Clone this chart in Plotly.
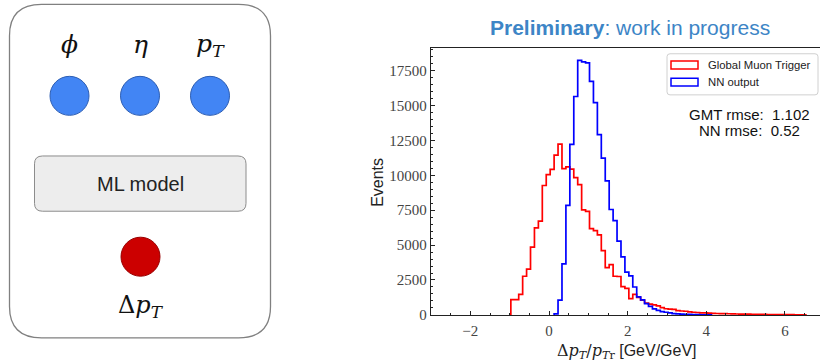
import plotly.graph_objects as go

# ---------------- data ----------------
bin_start = -0.97
bin_width = 0.1

gmt_counts = [1100, 1100, 1470, 2770, 3280, 4850, 6230, 6720, 9270, 10050,
              10420, 11450, 12230, 10480, 10600, 10450, 9830, 9340, 7530, 7420,
              6180, 6040, 5740, 4600, 3380, 3600, 2770, 2750, 2030, 1900,
              1160, 1470, 1250, 1050, 850, 770, 720, 650, 520, 440,
              420, 400, 300, 280, 260, 210, 190, 170, 150, 140,
              130, 115, 100, 95, 90, 80, 70, 65, 60, 55,
              50, 45, 40, 35, 30, 28, 25, 22, 20, 18,
              15, 12, 10, 8, 6]

nn_counts = [0] * 11 + [70, 1060, 3660, 7850, 12220, 15650, 18240, 18130, 18060, 16730,
                        15210, 12920, 11240, 9600, 7550, 6750, 5280, 4150, 3060, 2800,
                        2000, 1290, 1070, 800, 610, 430, 330, 240, 190, 140,
                        95, 70, 50, 40, 30, 20, 15, 10, 8, 5]

series_names = ["Global Muon Trigger", "NN output"]
rmse_labels = ["GMT rmse:  1.102", "NN rmse:  0.52"]
input_labels = ["<i>ϕ</i>", "<i>η</i>", "<i>p</i><sub><i>T</i></sub>"]
output_label = "Δ<i>p</i><sub><i>T</i></sub>"
model_label = "ML model"
x_ticks = [-2, 0, 2, 4, 6]


def step_xy(counts):
    idx = [i for i, c in enumerate(counts) if c > 0]
    i0, i1 = idx[0], idx[-1]
    edges = [bin_start + bin_width * i for i in range(i0, i1 + 2)]
    xs = [edges[0]] + edges[:-1] + [edges[-1]]
    ys = [0] + list(counts[i0:i1 + 1]) + [0]
    return xs, ys


W, H = 820, 362
fig = go.Figure()

gx, gy = step_xy(gmt_counts)
nx, ny = step_xy(nn_counts)
fig.add_trace(go.Scatter(x=gx, y=gy, mode="lines", line=dict(color="#ff0000", width=1.7, shape="hv"),
                         name=series_names[0], xaxis="x", yaxis="y"))
fig.add_trace(go.Scatter(x=nx, y=ny, mode="lines", line=dict(color="#0000ff", width=1.7, shape="hv"),
                         name=series_names[1], xaxis="x", yaxis="y"))

# diagram nodes (pixel-unit overlay axes)
node_x = [69.5, 140, 210, 140.5]
node_y = [98, 98, 98, 262.5]
node_fill = ["#4285f4", "#4285f4", "#4285f4", "#cc0000"]
node_line = ["#2f5fb3", "#2f5fb3", "#2f5fb3", "#990000"]
fig.add_trace(go.Scatter(x=node_x, y=node_y, mode="markers", xaxis="x2", yaxis="y2",
                         marker=dict(size=39, color=node_fill, line=dict(color=node_line, width=1)),
                         hoverinfo="skip"))


def rrect(x0, y0, x1, y1, r):
    return (f"M {x0+r},{y0} L {x1-r},{y0} Q {x1},{y0} {x1},{y0+r} "
            f"L {x1},{y1-r} Q {x1},{y1} {x1-r},{y1} L {x0+r},{y1} "
            f"Q {x0},{y1} {x0},{y1-r} L {x0},{y0+r} Q {x0},{y0} {x0+r},{y0} Z")


shapes = [
    dict(type="path", path=rrect(9.5, 4.5, 270.5, 345.5, 32), xref="x2", yref="y2",
         line=dict(color="#808080", width=1.3), fillcolor="rgba(0,0,0,0)", layer="below"),
    dict(type="path", path=rrect(34.5, 159.5, 246, 216, 8), xref="x2", yref="y2",
         line=dict(color="#8c8c8c", width=1), fillcolor="#ededed", layer="below"),
    # legend
    dict(type="path", path=rrect(667, 55, 818, 97, 3), xref="x2", yref="y2",
         line=dict(color="#d0d0d0", width=1), fillcolor="rgba(255,255,255,0.8)"),
    dict(type="rect", x0=671, x1=698, y0=62.5, y1=70.5, xref="x2", yref="y2",
         line=dict(color="#ff0000", width=1.5), fillcolor="rgba(0,0,0,0)"),
    dict(type="rect", x0=671, x1=698, y0=80, y1=88, xref="x2", yref="y2",
         line=dict(color="#0000ff", width=1.5), fillcolor="rgba(0,0,0,0)"),
]

math_font = "DejaVu Serif"
ann = []
for lx, lbl in zip([69.5, 140, 210], input_labels):
    ann.append(dict(x=lx, y=46, text=lbl, xref="x2", yref="y2", showarrow=False,
                    font=dict(family=math_font, size=25, color="#111")))
ann.append(dict(x=140.5, y=313, text=output_label, xref="x2", yref="y2", showarrow=False,
                font=dict(family=math_font, size=24, color="#111")))
ann.append(dict(x=140, y=188, text=model_label, xref="x2", yref="y2", showarrow=False,
                font=dict(family="Liberation Sans", size=20, color="#222")))
# title
ann.append(dict(x=629.5, y=28, text="<b>Preliminary</b>: work in progress", xref="x2", yref="y2",
                showarrow=False, font=dict(family="Liberation Sans", size=21, color="#3d85c6")))
# legend labels
ann.append(dict(x=706, y=66.5, text=series_names[0], xref="x2", yref="y2", showarrow=False,
                xanchor="left", font=dict(family="Liberation Sans", size=11.3, color="#222")))
ann.append(dict(x=706, y=84, text=series_names[1], xref="x2", yref="y2", showarrow=False,
                xanchor="left", font=dict(family="Liberation Sans", size=11.3, color="#222")))
# rmse text
ann.append(dict(x=749, y=117.5, text=rmse_labels[0], xref="x2", yref="y2", showarrow=False,
                font=dict(family="Liberation Sans", size=15, color="#111")))
ann.append(dict(x=749, y=133, text=rmse_labels[1], xref="x2", yref="y2", showarrow=False,
                font=dict(family="Liberation Sans", size=15, color="#111")))
# axis titles
ann.append(dict(x=378, y=187, text="Events", xref="x2", yref="y2", showarrow=False, textangle=-90,
                font=dict(family="Liberation Sans", size=16, color="#222")))
ann.append(dict(x=627, y=0.006, yref="paper", xref="x2", yanchor="middle",
                text=f"<span style='font-family:{math_font}'>Δ<i>p</i><sub><i>T</i></sub>/<i>p</i><sub><i>T</i>r</sub></span> [GeV/GeV]",
                showarrow=False,
                font=dict(family="Liberation Sans", size=16, color="#222")))

tickfont = dict(family="Liberation Serif", size=15, color="#444")
fig.update_layout(
    width=W, height=H, margin=dict(l=0, r=0, t=0, b=0),
    paper_bgcolor="white", plot_bgcolor="rgba(0,0,0,0)", showlegend=False,
    xaxis=dict(domain=[431 / W, 1.0], range=[-3.0, 6.89], anchor="y",
               showline=True, linecolor="#222", linewidth=1.3, mirror=True,
               ticks="inside", ticklen=4, tickwidth=1, tickcolor="#222", ticklabelstandoff=2,
               tickvals=x_ticks, showgrid=False, zeroline=False, tickfont=tickfont,
               minor=dict(dtick=0.5, tick0=0, ticks="inside", ticklen=2, tickcolor="#222")),
    yaxis=dict(domain=[(H - 322) / H, (H - 49) / H], range=[0, 19130], anchor="x",
               showline=True, linecolor="#222", linewidth=1.3,
               ticks="inside", ticklen=4, tickwidth=1, tickcolor="#222",
               dtick=2500, tick0=0, tickformat="d", showgrid=False, zeroline=False, tickfont=tickfont,
               minor=dict(dtick=500, tick0=0, ticks="inside", ticklen=2, tickcolor="#222")),
    xaxis2=dict(domain=[0, 1], range=[0, W], anchor="y2", visible=False, fixedrange=True),
    yaxis2=dict(domain=[0, 1], range=[H, 0], anchor="x2", visible=False, fixedrange=True),
    shapes=shapes, annotations=ann,
)

fig.write_html("out.html")
